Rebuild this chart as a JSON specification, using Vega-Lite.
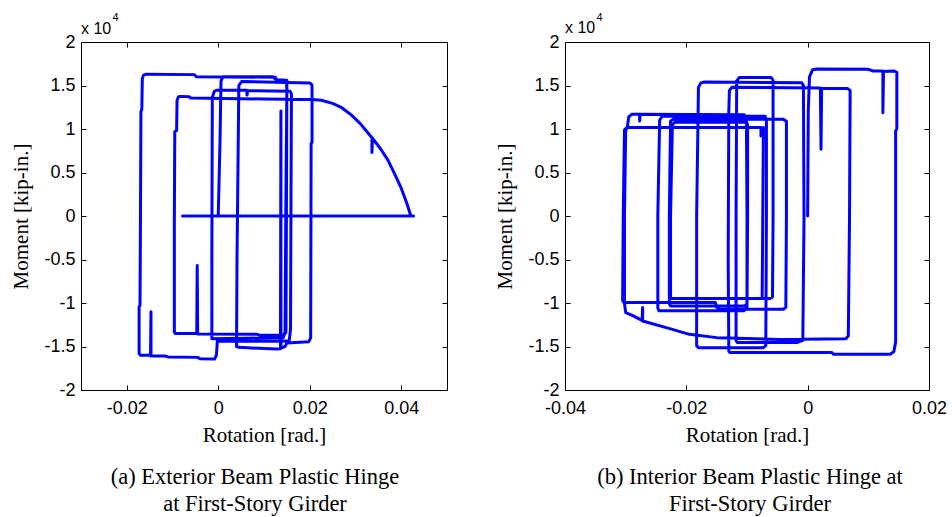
{
  "$schema": "https://vega.github.io/schema/vega-lite/v6.json",
  "padding": {"left": 10, "top": 11, "right": 0, "bottom": 0},
  "background": "white",
  "spacing": 46,
  "config": {
    "view": {"stroke": "black", "strokeWidth": 1},
    "axis": {"grid": false, "domainColor": "black", "tickColor": "black", "labelColor": "black", "titleColor": "black", "labelFont": "Liberation Sans", "labelFontSize": 18, "titleFont": "Liberation Serif", "titleFontSize": 21, "titleFontWeight": "normal", "tickSize": -5, "domain": false, "labelFlush": false}
  },
  "datasets": {
    "left": [
      {"s":0,"i":0,"r":0.0000,"m":0},{"s":0,"i":1,"r":0.0004,"m":9000},{"s":0,"i":2,"r":0.0006,"m":15500},{"s":0,"i":3,"r":0.0010,"m":16000},{"s":0,"i":4,"r":0.0120,"m":16000},{"s":0,"i":5,"r":0.0126,"m":15650},{"s":0,"i":6,"r":0.0149,"m":15600},{"s":0,"i":7,"r":0.0150,"m":14500},{"s":0,"i":8,"r":0.0148,"m":3000},{"s":0,"i":9,"r":0.0146,"m":-13300},
      {"s":0,"i":10,"r":0.0142,"m":-14000},{"s":0,"i":11,"r":0.0060,"m":-14050},{"s":0,"i":12,"r":-0.0014,"m":-14100},{"s":0,"i":13,"r":-0.0014,"m":-5000},{"s":0,"i":14,"r":-0.0013,"m":13600},{"s":0,"i":15,"r":-0.0009,"m":14300},{"s":0,"i":16,"r":-0.0004,"m":14450},{"s":0,"i":17,"r":0.0062,"m":14450},{"s":0,"i":18,"r":0.0063,"m":13900},{"s":0,"i":19,"r":0.0064,"m":14400},
      {"s":0,"i":20,"r":0.0157,"m":14350},{"s":0,"i":21,"r":0.0160,"m":14000},{"s":0,"i":22,"r":0.0159,"m":2000},{"s":0,"i":23,"r":0.0158,"m":-13000},{"s":0,"i":24,"r":0.0155,"m":-14350},{"s":0,"i":25,"r":0.0140,"m":-14400},{"s":0,"i":26,"r":-0.0002,"m":-14400},{"s":0,"i":27,"r":-0.0004,"m":-16000},{"s":0,"i":28,"r":-0.0008,"m":-16450},{"s":0,"i":29,"r":-0.0040,"m":-16400},
      {"s":0,"i":30,"r":-0.0045,"m":-16250},{"s":0,"i":31,"r":-0.0110,"m":-16200},{"s":0,"i":32,"r":-0.0115,"m":-16100},{"s":0,"i":33,"r":-0.0147,"m":-16100},{"s":0,"i":34,"r":-0.0147,"m":-11000},{"s":0,"i":35,"r":-0.0148,"m":-16000},{"s":0,"i":36,"r":-0.0170,"m":-16000},{"s":0,"i":37,"r":-0.0173,"m":-15800},{"s":0,"i":38,"r":-0.0173,"m":-10400},{"s":0,"i":39,"r":-0.0171,"m":-10300},
      {"s":0,"i":40,"r":-0.0170,"m":0},{"s":0,"i":41,"r":-0.0169,"m":12000},{"s":0,"i":42,"r":-0.0167,"m":12300},{"s":0,"i":43,"r":-0.0166,"m":15800},{"s":0,"i":44,"r":-0.0163,"m":16200},{"s":0,"i":45,"r":-0.0157,"m":16300},{"s":0,"i":46,"r":-0.0052,"m":16250},{"s":0,"i":47,"r":-0.0048,"m":16000},{"s":0,"i":48,"r":0.0125,"m":15950},{"s":0,"i":49,"r":0.0127,"m":15650},
      {"s":0,"i":50,"r":0.0150,"m":15600},{"s":0,"i":51,"r":0.0149,"m":0},{"s":0,"i":52,"r":0.0148,"m":-13400},{"s":0,"i":53,"r":0.0143,"m":-13700},{"s":0,"i":54,"r":0.0090,"m":-13700},{"s":0,"i":55,"r":0.0085,"m":-13600},{"s":0,"i":56,"r":-0.0045,"m":-13550},{"s":0,"i":57,"r":-0.0046,"m":-5700},{"s":0,"i":58,"r":-0.0047,"m":-13500},{"s":0,"i":59,"r":-0.0094,"m":-13500},
      {"s":0,"i":60,"r":-0.0096,"m":-13300},{"s":0,"i":61,"r":-0.0096,"m":-1000},{"s":0,"i":62,"r":-0.0095,"m":9700},{"s":0,"i":63,"r":-0.0091,"m":9800},{"s":0,"i":64,"r":-0.0090,"m":13300},{"s":0,"i":65,"r":-0.0087,"m":13700},{"s":0,"i":66,"r":-0.0082,"m":13750},{"s":0,"i":67,"r":-0.0063,"m":13700},{"s":0,"i":68,"r":-0.0060,"m":13550},{"s":0,"i":69,"r":0.0100,"m":13450},
      {"s":0,"i":70,"r":0.0205,"m":13400},{"s":0,"i":71,"r":0.0225,"m":13300},{"s":0,"i":72,"r":0.0250,"m":12950},{"s":0,"i":73,"r":0.0270,"m":12450},{"s":0,"i":74,"r":0.0290,"m":11650},{"s":0,"i":75,"r":0.0310,"m":10650},{"s":0,"i":76,"r":0.0336,"m":9000},{"s":0,"i":77,"r":0.0336,"m":7300},{"s":0,"i":78,"r":0.0337,"m":8950},{"s":0,"i":79,"r":0.0355,"m":7700},
      {"s":0,"i":80,"r":0.0370,"m":6500},{"s":0,"i":81,"r":0.0385,"m":4900},{"s":0,"i":82,"r":0.0400,"m":3200},{"s":0,"i":83,"r":0.0412,"m":1500},{"s":0,"i":84,"r":0.0421,"m":0},{"s":0,"i":85,"r":0.0427,"m":0},{"s":0,"i":86,"r":-0.0078,"m":0},
      {"s":1,"i":100,"r":0.0040,"m":-15000},{"s":1,"i":101,"r":0.0041,"m":-5000},{"s":1,"i":102,"r":0.0044,"m":10000},{"s":1,"i":103,"r":0.0045,"m":15000},{"s":1,"i":104,"r":0.0051,"m":15450},{"s":1,"i":105,"r":0.0150,"m":15350},{"s":1,"i":106,"r":0.0200,"m":15300},{"s":1,"i":107,"r":0.0205,"m":15050},{"s":1,"i":108,"r":0.0205,"m":8500},{"s":1,"i":109,"r":0.0203,"m":8300},
      {"s":1,"i":110,"r":0.0202,"m":-14000},{"s":1,"i":111,"r":0.0198,"m":-14450},{"s":1,"i":112,"r":0.0150,"m":-14600},{"s":1,"i":113,"r":0.0146,"m":-15000},{"s":1,"i":114,"r":0.0137,"m":-15200},{"s":1,"i":115,"r":0.0137,"m":12070},{"s":1,"i":116,"r":0.0136,"m":-15250},{"s":1,"i":117,"r":0.0126,"m":-15300},{"s":1,"i":118,"r":0.0045,"m":-15100},{"s":1,"i":119,"r":0.0040,"m":-15000}
    ],
    "right": [
      {"s":0,"i":0,"r":0.0000,"m":0},{"s":0,"i":1,"r":0.0001,"m":12000},{"s":0,"i":2,"r":0.0003,"m":16000},{"s":0,"i":3,"r":0.0008,"m":16800},{"s":0,"i":4,"r":0.0015,"m":16900},{"s":0,"i":5,"r":0.0100,"m":16860},{"s":0,"i":6,"r":0.0108,"m":16670},{"s":0,"i":7,"r":0.0124,"m":16670},{"s":0,"i":8,"r":0.0124,"m":11880},{"s":0,"i":9,"r":0.0125,"m":16600},
      {"s":0,"i":10,"r":0.0142,"m":16670},{"s":0,"i":11,"r":0.0147,"m":16500},{"s":0,"i":12,"r":0.0147,"m":10000},{"s":0,"i":13,"r":0.0145,"m":9800},{"s":0,"i":14,"r":0.0145,"m":-14500},{"s":0,"i":15,"r":0.0142,"m":-15600},{"s":0,"i":16,"r":0.0136,"m":-15900},{"s":0,"i":17,"r":0.0043,"m":-15900},{"s":0,"i":18,"r":0.0040,"m":-15700},{"s":0,"i":19,"r":-0.0128,"m":-15700},
      {"s":0,"i":20,"r":-0.0130,"m":-15500},{"s":0,"i":21,"r":-0.0131,"m":-5000},{"s":0,"i":22,"r":-0.0130,"m":12000},{"s":0,"i":23,"r":-0.0129,"m":14400},{"s":0,"i":24,"r":-0.0125,"m":14800},{"s":0,"i":25,"r":0.0021,"m":14700},{"s":0,"i":26,"r":0.0022,"m":7660},{"s":0,"i":27,"r":0.0023,"m":14650},{"s":0,"i":28,"r":0.0066,"m":14650},{"s":0,"i":29,"r":0.0070,"m":14400},
      {"s":0,"i":30,"r":0.0069,"m":0},{"s":0,"i":31,"r":0.0067,"m":-13800},{"s":0,"i":32,"r":0.0063,"m":-14100},{"s":0,"i":33,"r":-0.0046,"m":-14200},{"s":0,"i":34,"r":-0.0099,"m":-14090},{"s":0,"i":35,"r":-0.0150,"m":-13980},{"s":0,"i":36,"r":-0.0195,"m":-13600},{"s":0,"i":37,"r":-0.0233,"m":-12830},{"s":0,"i":38,"r":-0.0272,"m":-12070},{"s":0,"i":39,"r":-0.0272,"m":-10530},
      {"s":0,"i":40,"r":-0.0273,"m":-12000},{"s":0,"i":41,"r":-0.0290,"m":-11400},{"s":0,"i":42,"r":-0.0300,"m":-11100},{"s":0,"i":43,"r":-0.0302,"m":-10000},{"s":0,"i":44,"r":-0.0302,"m":0},{"s":0,"i":45,"r":-0.0300,"m":9800},{"s":0,"i":46,"r":-0.0297,"m":10300},{"s":0,"i":47,"r":-0.0295,"m":11400},{"s":0,"i":48,"r":-0.0290,"m":11690},{"s":0,"i":49,"r":-0.0277,"m":11690},
      {"s":0,"i":50,"r":-0.0277,"m":10920},{"s":0,"i":51,"r":-0.0276,"m":11690},{"s":0,"i":52,"r":-0.0105,"m":11650},{"s":0,"i":53,"r":-0.0101,"m":11400},{"s":0,"i":54,"r":-0.0100,"m":0},{"s":0,"i":55,"r":-0.0100,"m":-10500},{"s":0,"i":56,"r":-0.0105,"m":-10900},{"s":0,"i":57,"r":-0.0245,"m":-10900},{"s":0,"i":58,"r":-0.0247,"m":-10600},{"s":0,"i":59,"r":-0.0247,"m":0},
      {"s":0,"i":60,"r":-0.0244,"m":11000},{"s":0,"i":61,"r":-0.0240,"m":11460},{"s":0,"i":62,"r":-0.0070,"m":11460},{"s":0,"i":63,"r":-0.0068,"m":11000},{"s":0,"i":64,"r":-0.0068,"m":0},{"s":0,"i":65,"r":-0.0069,"m":-14900},{"s":0,"i":66,"r":-0.0073,"m":-15130},{"s":0,"i":67,"r":-0.0180,"m":-15130},{"s":0,"i":68,"r":-0.0183,"m":-14900},{"s":0,"i":69,"r":-0.0183,"m":0},
      {"s":0,"i":70,"r":-0.0180,"m":14800},{"s":0,"i":71,"r":-0.0176,"m":15300},{"s":0,"i":72,"r":-0.0170,"m":15400},{"s":0,"i":73,"r":-0.0010,"m":15330},{"s":0,"i":74,"r":-0.0007,"m":15000},{"s":0,"i":75,"r":-0.0006,"m":0},{"s":0,"i":76,"r":-0.0008,"m":-14300},{"s":0,"i":77,"r":-0.0018,"m":-14550},{"s":0,"i":78,"r":-0.0116,"m":-14550},{"s":0,"i":79,"r":-0.0118,"m":-14300},
      {"s":0,"i":80,"r":-0.0118,"m":0},{"s":0,"i":81,"r":-0.0117,"m":15500},{"s":0,"i":82,"r":-0.0113,"m":15910},{"s":0,"i":83,"r":-0.0060,"m":15910},{"s":0,"i":84,"r":-0.0057,"m":15600},{"s":0,"i":85,"r":-0.0057,"m":0},{"s":0,"i":86,"r":-0.0058,"m":-9300},{"s":0,"i":87,"r":-0.0062,"m":-9490},{"s":0,"i":88,"r":-0.0224,"m":-9490},{"s":0,"i":89,"r":-0.0226,"m":-9300},
      {"s":0,"i":90,"r":-0.0226,"m":0},{"s":0,"i":91,"r":-0.0223,"m":10500},{"s":0,"i":92,"r":-0.0219,"m":10770},{"s":0,"i":93,"r":-0.0101,"m":10770},{"s":0,"i":94,"r":-0.0099,"m":10500},{"s":0,"i":95,"r":-0.0099,"m":0},{"s":0,"i":96,"r":-0.0100,"m":-10100},{"s":0,"i":97,"r":-0.0104,"m":-10340},{"s":0,"i":98,"r":-0.0226,"m":-10340},{"s":0,"i":99,"r":-0.0228,"m":-10100},
      {"s":0,"i":100,"r":-0.0228,"m":0},{"s":0,"i":101,"r":-0.0226,"m":10900},{"s":0,"i":102,"r":-0.0222,"m":11110},{"s":0,"i":103,"r":-0.0040,"m":11110},{"s":0,"i":104,"r":-0.0035,"m":10900},{"s":0,"i":105,"r":-0.0035,"m":0},{"s":0,"i":106,"r":-0.0036,"m":-10500},{"s":0,"i":107,"r":-0.0040,"m":-10720},{"s":0,"i":108,"r":-0.0145,"m":-10720},{"s":0,"i":109,"r":-0.0150,"m":-10500},
      {"s":0,"i":110,"r":-0.0152,"m":-9950},{"s":0,"i":111,"r":-0.0303,"m":-9950},{"s":0,"i":112,"r":-0.0305,"m":-9700},{"s":0,"i":113,"r":-0.0304,"m":0},{"s":0,"i":114,"r":-0.0302,"m":9900},{"s":0,"i":115,"r":-0.0298,"m":10160},{"s":0,"i":116,"r":-0.0077,"m":10160},{"s":0,"i":117,"r":-0.0077,"m":9200},{"s":0,"i":118,"r":-0.0076,"m":10100},{"s":0,"i":119,"r":-0.0073,"m":10160},
      {"s":0,"i":120,"r":-0.0073,"m":9800},{"s":0,"i":121,"r":-0.0074,"m":0},{"s":0,"i":122,"r":-0.0075,"m":-9300}
    ]
  },
  "hconcat": [
    {
      "width": 366, "height": 348,
      "data": {"name": "left"},
      "title": {"text": ["(a) Exterior Beam Plastic Hinge", "at First-Story Girder"], "orient": "bottom", "anchor": "middle", "font": "Liberation Serif", "fontSize": 22.5, "fontWeight": "normal", "color": "black", "lineHeight": 27, "offset": 21, "dx": -9},
      "layer": [
        {
          "mark": {"type": "line", "color": "#0000ff", "strokeWidth": 3, "strokeJoin": "round", "strokeCap": "round"},
          "encoding": {
            "x": {"field": "r", "type": "quantitative", "scale": {"domain": [-0.03, 0.05], "nice": false, "zero": false},
                  "axis": {"orient": "bottom", "values": [-0.02, 0, 0.02, 0.04], "labelExpr": "'' + datum.value", "labelPadding": 14, "title": "Rotation [rad.]", "titlePadding": 7}},
            "y": {"field": "m", "type": "quantitative", "scale": {"domain": [-20000, 20000], "nice": false, "zero": false},
                  "axis": {"orient": "left", "values": [-20000, -15000, -10000, -5000, 0, 5000, 10000, 15000, 20000], "labelExpr": "'' + datum.value / 10000", "labelPadding": 11, "title": "Moment [kip-in.]", "titlePadding": 12}},
            "detail": {"field": "s", "type": "nominal"},
            "order": {"field": "i", "type": "quantitative"}
          }
        },
        {
          "mark": {"type": "point", "opacity": 0},
          "encoding": {
            "x": {"field": "r", "type": "quantitative", "scale": {"domain": [-0.03, 0.05], "nice": false, "zero": false},
                  "axis": {"orient": "top", "values": [-0.02, 0, 0.02, 0.04], "labels": false, "title": null}},
            "y": {"field": "m", "type": "quantitative", "scale": {"domain": [-20000, 20000], "nice": false, "zero": false},
                  "axis": {"orient": "right", "values": [-20000, -15000, -10000, -5000, 0, 5000, 10000, 15000, 20000], "labels": false, "title": null}}
          }
        },
        {
          "data": {"values": [{"r": -0.03, "m": 20000, "t": "x 10"}]},
          "mark": {"type": "text", "align": "left", "baseline": "alphabetic", "dy": -8, "font": "Liberation Sans", "fontSize": 16, "color": "black"},
          "encoding": {
            "x": {"field": "r", "type": "quantitative", "axis": null},
            "y": {"field": "m", "type": "quantitative", "axis": null},
            "text": {"field": "t"}
          }
        },
        {
          "data": {"values": [{"r": -0.03, "m": 20000, "t": "4"}]},
          "mark": {"type": "text", "align": "left", "baseline": "alphabetic", "dx": 31.5, "dy": -21, "font": "Liberation Sans", "fontSize": 11, "color": "black"},
          "encoding": {
            "x": {"field": "r", "type": "quantitative", "axis": null},
            "y": {"field": "m", "type": "quantitative", "axis": null},
            "text": {"field": "t"}
          }
        }
      ],
      "resolve": {"axis": {"x": "independent", "y": "independent"}}
    },
    {
      "width": 364, "height": 348,
      "data": {"name": "right"},
      "title": {"text": ["(b) Interior Beam Plastic Hinge at", "First-Story Girder"], "orient": "bottom", "anchor": "middle", "font": "Liberation Serif", "fontSize": 22.5, "fontWeight": "normal", "color": "black", "lineHeight": 27, "offset": 21, "dx": 3},
      "layer": [
        {
          "mark": {"type": "line", "color": "#0000ff", "strokeWidth": 3, "strokeJoin": "round", "strokeCap": "round"},
          "encoding": {
            "x": {"field": "r", "type": "quantitative", "scale": {"domain": [-0.04, 0.02], "nice": false, "zero": false},
                  "axis": {"orient": "bottom", "values": [-0.04, -0.02, 0, 0.02], "labelExpr": "'' + datum.value", "labelPadding": 14, "title": "Rotation [rad.]", "titlePadding": 7}},
            "y": {"field": "m", "type": "quantitative", "scale": {"domain": [-20000, 20000], "nice": false, "zero": false},
                  "axis": {"orient": "left", "values": [-20000, -15000, -10000, -5000, 0, 5000, 10000, 15000, 20000], "labelExpr": "'' + datum.value / 10000", "labelPadding": 11, "title": "Moment [kip-in.]", "titlePadding": 12}},
            "detail": {"field": "s", "type": "nominal"},
            "order": {"field": "i", "type": "quantitative"}
          }
        },
        {
          "mark": {"type": "point", "opacity": 0},
          "encoding": {
            "x": {"field": "r", "type": "quantitative", "scale": {"domain": [-0.04, 0.02], "nice": false, "zero": false},
                  "axis": {"orient": "top", "values": [-0.04, -0.02, 0, 0.02], "labels": false, "title": null}},
            "y": {"field": "m", "type": "quantitative", "scale": {"domain": [-20000, 20000], "nice": false, "zero": false},
                  "axis": {"orient": "right", "values": [-20000, -15000, -10000, -5000, 0, 5000, 10000, 15000, 20000], "labels": false, "title": null}}
          }
        },
        {
          "data": {"values": [{"r": -0.04, "m": 20000, "t": "x 10"}]},
          "mark": {"type": "text", "align": "left", "baseline": "alphabetic", "dy": -9, "font": "Liberation Sans", "fontSize": 16, "color": "black"},
          "encoding": {
            "x": {"field": "r", "type": "quantitative", "axis": null},
            "y": {"field": "m", "type": "quantitative", "axis": null},
            "text": {"field": "t"}
          }
        },
        {
          "data": {"values": [{"r": -0.04, "m": 20000, "t": "4"}]},
          "mark": {"type": "text", "align": "left", "baseline": "alphabetic", "dx": 31.5, "dy": -21.5, "font": "Liberation Sans", "fontSize": 11, "color": "black"},
          "encoding": {
            "x": {"field": "r", "type": "quantitative", "axis": null},
            "y": {"field": "m", "type": "quantitative", "axis": null},
            "text": {"field": "t"}
          }
        }
      ],
      "resolve": {"axis": {"x": "independent", "y": "independent"}}
    }
  ]
}
